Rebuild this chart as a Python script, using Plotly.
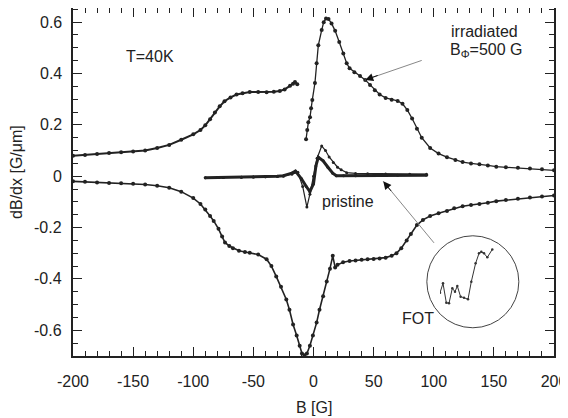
import plotly.graph_objects as go

# ---------------- data ----------------
# irradiated sample, upper branch (left part)
irr_up1_B = [-200, -190, -180, -170, -160, -150, -140, -130, -120, -110, -100, -94, -90, -86, -82, -78,
             -74, -69, -64, -59, -53, -46, -39, -33, -28, -24, -19.5, -17, -15.4, -13.5]
irr_up1_v = [0.080, 0.083, 0.087, 0.090, 0.093, 0.096, 0.100, 0.110, 0.122, 0.142, 0.163, 0.180, 0.198,
             0.222, 0.248, 0.272, 0.292, 0.307, 0.318, 0.323, 0.328, 0.328, 0.327, 0.329, 0.332, 0.338,
             0.352, 0.360, 0.367, 0.358]

# irradiated sample, upper branch (right part, after the jump)
irr_up2_B = [-6.2, -5.2, -4.3, -2.9, -2.0, -1.0, 1.2, 2.6, 4.0, 6.8, 8.5, 10.4, 12.5, 15, 18, 21.4, 24.8,
             27.6, 30, 34, 38.7, 43, 47, 51, 55, 60, 65, 70, 74, 78, 82, 86, 90, 97, 104, 111, 118, 124,
             131, 138, 145, 152, 160, 170, 180, 190, 200]
irr_up2_v = [0.144, 0.180, 0.210, 0.230, 0.265, 0.297, 0.363, 0.440, 0.510, 0.569, 0.600, 0.614, 0.612,
             0.595, 0.566, 0.523, 0.478, 0.440, 0.420, 0.405, 0.390, 0.375, 0.355, 0.335, 0.318, 0.305,
             0.298, 0.293, 0.282, 0.258, 0.225, 0.185, 0.150, 0.110, 0.088, 0.074, 0.063, 0.055, 0.050,
             0.047, 0.042, 0.037, 0.035, 0.033, 0.030, 0.027, 0.023]

# irradiated sample, lower branch
irr_lo_B = [-200, -190, -180, -170, -160, -150, -140, -130, -120, -110, -100, -94, -90, -86, -83, -79,
            -76, -73.6, -70, -67, -62, -57, -53, -46, -39, -35, -31, -27, -22.6, -20, -17, -14, -11.5,
            -9.6, -7.5, -5.5, -3, -0.5, 2.6, 5, 8, 11, 13.7, 16, 18, 20, 24.6, 30, 35, 40, 45, 50, 55, 60,
            65, 69, 73, 77.5, 81, 86, 91, 97, 104, 111, 117, 124, 131, 138, 145, 152, 160, 170, 180, 190, 200]
irr_lo_v = [-0.020, -0.022, -0.024, -0.026, -0.027, -0.029, -0.032, -0.037, -0.045, -0.060, -0.085,
            -0.108, -0.130, -0.155, -0.174, -0.205, -0.235, -0.258, -0.272, -0.280, -0.290, -0.295,
            -0.298, -0.305, -0.323, -0.350, -0.390, -0.430, -0.480, -0.520, -0.577, -0.620, -0.660,
            -0.690, -0.697, -0.690, -0.660, -0.620, -0.570, -0.520, -0.467, -0.410, -0.360, -0.310,
            -0.355, -0.345, -0.335, -0.330, -0.328, -0.325, -0.323, -0.322, -0.320, -0.317, -0.310,
            -0.300, -0.280, -0.250, -0.225, -0.190, -0.170, -0.155, -0.144, -0.135, -0.125, -0.117,
            -0.112, -0.108, -0.103, -0.097, -0.093, -0.088, -0.083, -0.079, -0.075]

# pristine sample, outer loop
pri_a_B = [-90, -75, -60, -50, -40, -30, -25, -18, -13, -9, -5.5, -3, 0, 3, 6.8, 10, 13, 16.5, 20, 23,
           27.6, 35, 45, 60, 80, 94]
pri_a_v = [-0.006, -0.005, -0.004, -0.003, -0.002, -0.001, 0.000, 0.008, 0.015, -0.040, -0.120, -0.070,
           0.000, 0.070, 0.118, 0.100, 0.075, 0.053, 0.035, 0.025, 0.014, 0.011, 0.010, 0.009, 0.008, 0.008]

# pristine sample, inner loop
pri_b_B = [-90, -75, -60, -50, -40, -30, -25, -18, -15, -10, -6, -3, 0, 2, 4, 8, 12, 16, 19, 25, 35,
           50, 70, 94]
pri_b_v = [-0.006, -0.005, -0.004, -0.003, -0.002, 0.000, 0.002, 0.012, 0.020, -0.010, -0.040, -0.060,
           -0.030, 0.040, 0.074, 0.060, 0.035, 0.012, 0.002, 0.002, 0.002, 0.003, 0.004, 0.004]

# inset (first order transition detail), arbitrary units
inset_x = [0, 3, 6.3, 9, 12.3, 15, 17.3, 20.6, 24, 28, 31.3, 35.6, 39, 41.3, 44, 47.3, 52.3]
inset_y = [12.3, 21.7, 2.3, 1.7, 16.7, 13.3, 19, 8.3, 7.3, 5.7, 23.3, 41.7, 51.7, 53.3, 51.7, 47.7, 55.7]

x_ticks = [-200, -150, -100, -50, 0, 50, 100, 150, 200]
x_ticktext = ["-200", "-150", "-100", "-50", "0", "50", "100", "150", "200"]
y_ticks = [-0.6, -0.4, -0.2, 0, 0.2, 0.4, 0.6]
y_ticktext = ["-0.6", "-0.4", "-0.2", "0", "0.2", "0.4", "0.6"]

# ---------------- figure ----------------
FONT = "Liberation Sans, Arial, Helvetica, sans-serif"
fig = go.Figure()

def add_curve(xs, ys, lw=1.3, ms=4):
    fig.add_trace(go.Scatter(x=xs, y=ys, mode="lines+markers",
                             line=dict(color="#222", width=lw),
                             marker=dict(color="#222", size=ms, symbol="circle"),
                             showlegend=False, hoverinfo="skip"))

add_curve(irr_up1_B, irr_up1_v, lw=2.0, ms=4)
add_curve(irr_up2_B, irr_up2_v, lw=1.3, ms=4)
add_curve(irr_lo_B, irr_lo_v, lw=1.6, ms=4)
add_curve(pri_a_B, pri_a_v, lw=1.2, ms=3)
add_curve(pri_b_B, pri_b_v, lw=3.0, ms=3)

fig.add_trace(go.Scatter(x=inset_x, y=inset_y, mode="lines+markers", xaxis="x2", yaxis="y2",
                         line=dict(color="#333", width=1), marker=dict(color="#333", size=2.5),
                         showlegend=False, hoverinfo="skip"))

axis_common = dict(showgrid=False, zeroline=False, showline=True, linecolor="#222", linewidth=1.5,
                   ticks="inside", ticklen=9, tickwidth=1, tickcolor="#222", mirror="allticks",
                   ticklabeloverflow="allow",
                   tickfont=dict(family=FONT, size=16, color="#222"))

# the page body has an 8px margin, so the figure is 8px smaller and shifted by 8px
fig.update_layout(
    width=560, height=410,
    margin=dict(l=65, r=14, t=0, b=62, autoexpand=False),
    paper_bgcolor="white", plot_bgcolor="white",
    xaxis=dict(range=[-200, 200], tickvals=x_ticks, ticktext=x_ticktext, ticklabelstandoff=10,
               minor=dict(dtick=10, tick0=0, ticks="inside", ticklen=5, tickcolor="#222"),
               **axis_common),
    yaxis=dict(range=[-0.7, 0.655], tickvals=y_ticks, ticktext=y_ticktext, showticklabels=False,
               minor=dict(dtick=0.05, tick0=0, ticks="inside", ticklen=5, tickcolor="#222"),
               **axis_common),
    xaxis2=dict(domain=[0.763, 0.8815], range=[0, 57], anchor="y2", visible=False),
    yaxis2=dict(domain=[0.1466, 0.313], range=[0, 58], anchor="x2", visible=False),
)

def txt(x, y, s, size=16, **kw):
    fig.add_annotation(x=x, y=y, text=s, showarrow=False,
                       font=dict(family=FONT, size=size, color="#222"), **kw)

# y tick labels placed at the axis' own tick values
for v, t in zip(y_ticks, y_ticktext):
    txt(-0.0187, v, t, xref="paper", yref="y", xanchor="right", yanchor="middle")

txt(-136, 0.465, "T=40K")
txt(142.6, 0.565, "irradiated")
txt(143.6, 0.49, "B<sub>Φ</sub>=500 G")
txt(28.7, -0.10, "pristine")
txt(87, -0.555, "FOT")
txt(0.501, -0.1466, "B [G]", xref="paper", yref="paper", xanchor="center", yanchor="middle")
txt(-0.1164, 0.529, "dB/dx [G/μm]", xref="paper", yref="paper", textangle=-90,
    xanchor="center", yanchor="middle")

# arrow to irradiated curve: grey shaft + black head
fig.add_annotation(x=43, y=0.375, ax=58, ay=-20, showarrow=True, arrowhead=0, arrowwidth=1,
                   arrowcolor="#888", text="")
fig.add_annotation(x=43, y=0.375, ax=14, ay=-5, showarrow=True, arrowhead=2, arrowsize=1.6,
                   arrowwidth=1, arrowcolor="#111", text="")
# arrow to pristine curve
fig.add_annotation(x=58, y=-0.02, ax=52, ay=63, showarrow=True, arrowhead=0, arrowwidth=1,
                   arrowcolor="#888", text="")
fig.add_annotation(x=58, y=-0.02, ax=9, ay=11, showarrow=True, arrowhead=2, arrowsize=1.6,
                   arrowwidth=1, arrowcolor="#111", text="")

# inset circle
fig.add_shape(type="circle", xref="x", yref="y", xsizemode="pixel", ysizemode="pixel",
              xanchor=132.5, yanchor=-0.411, x0=-46, x1=46, y0=-46, y1=46,
              line=dict(color="#444", width=1))

fig.write_html("out.html")
